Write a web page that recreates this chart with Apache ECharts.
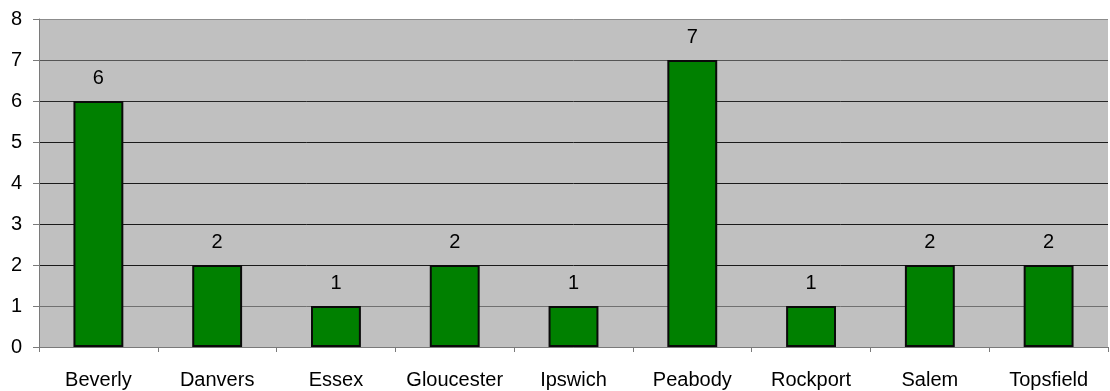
<!DOCTYPE html>
<html>
<head>
<meta charset="utf-8">
<script src="https://cdn.jsdelivr.net/npm/echarts@6/dist/echarts.min.js"></script>
<style>
  html, body { margin: 0; padding: 0; background: #ffffff; }
  #chart { width: 1110px; height: 391px; }
</style>
</head>
<body>
<div id="chart"></div>
<script>
// Towns and their counts
const towns = ['Beverly', 'Danvers', 'Essex', 'Gloucester', 'Ipswich', 'Peabody', 'Rockport', 'Salem', 'Topsfield'];
const counts = [6, 2, 1, 2, 1, 7, 1, 2, 2];
const yTicks = [0, 1, 2, 3, 4, 5, 6, 7, 8];

const chart = echarts.init(document.getElementById('chart'));
const font = 'Arial, "Liberation Sans", sans-serif';

chart.setOption({
  backgroundColor: '#ffffff',
  animation: false,
  grid: {
    left: 39, right: 2, top: 19, bottom: 44,
    show: true, backgroundColor: '#c0c0c0', borderColor: '#8a8a8a', borderWidth: 0
  },
  xAxis: {
    type: 'category',
    data: towns,
    axisLine: { show: true, lineStyle: { color: '#7a7a7a', width: 1 } },
    axisTick: { show: true, alignWithLabel: false, interval: 0, length: 5, lineStyle: { color: '#7a7a7a' } },
    axisLabel: { color: '#000', fontFamily: font, fontSize: 20, margin: 23, interval: 0, hideOverlap: false }
  },
  yAxis: {
    type: 'value',
    min: yTicks[0],
    max: yTicks[yTicks.length - 1],
    interval: 1,
    axisLine: { show: true, lineStyle: { color: '#7a7a7a', width: 1 } },
    axisTick: { show: true, length: 6, lineStyle: { color: '#7a7a7a' } },
    axisLabel: { color: '#000', fontFamily: font, fontSize: 20, margin: 17 },
    splitLine: {
      show: true,
      lineStyle: {
        color: ['#7a7a7a', '#707070', '#1a1a1a', '#1a1a1a', '#1a1a1a', '#1a1a1a', '#262626', '#555555', '#8c8c8c'],
        width: 1
      }
    }
  },
  series: [{
    type: 'bar',
    data: counts,
    barWidth: '42%',
    itemStyle: { color: '#008000', borderColor: '#0a0a0a', borderWidth: 2 },
    label: {
      show: true,
      position: 'top',
      distance: 13,
      color: '#000',
      fontFamily: font,
      fontSize: 20
    }
  }]
});
</script>
</body>
</html>
